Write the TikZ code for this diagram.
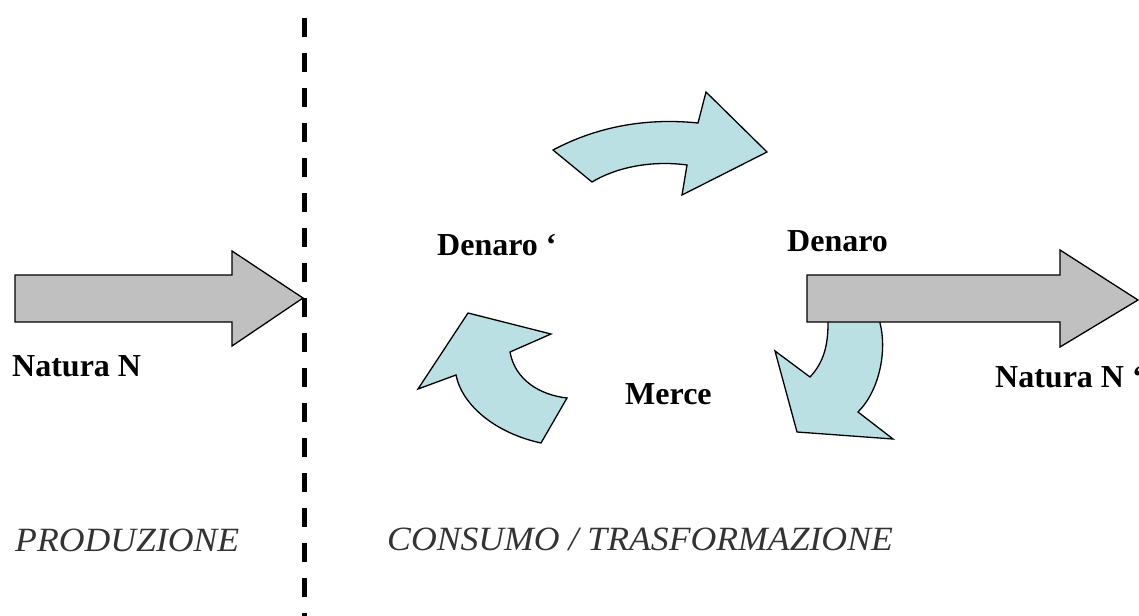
\documentclass[tikz,border=0pt]{standalone}
\usepackage{fontspec}
\setmainfont{Liberation Serif}
\newfontfamily\zonafont[FakeStretch=1.05]{Liberation Serif}
\usepackage{xcolor}
\definecolor{grigio}{HTML}{C0C0C0}
\definecolor{azzurro}{HTML}{BBE0E3}
\definecolor{scuro}{HTML}{333333}

\begin{document}
\begin{tikzpicture}[x=1pt,y=-1pt,
  etichetta/.style={anchor=base west,inner sep=0pt,font=\fontsize{32}{36}\selectfont\bfseries},
  zona/.style={anchor=base west,inner sep=0pt,text=scuro,font=\fontsize{34}{40}\selectfont\zonafont\itshape},
  freccia/.style={line width=1.3pt,line join=miter,fill=grigio},
  ciclo/.style={line width=1.3pt,line join=miter,fill=azzurro}]
\useasboundingbox (0,0) rectangle (1139,615);

\filldraw[freccia] (15,275) -- (232,275) -- (232,251) -- (303,298) -- (232,346) -- (232,322) -- (15,322) -- cycle;
\draw[line width=5pt,dash pattern=on 19pt off 16pt] (304,18) -- (304,640);

\filldraw[ciclo] (553,150) .. controls (600,125) and (650,118) .. (698,123) -- (706,92) -- (767,152)
  -- (682,195) -- (687,165) .. controls (650,160) and (615,168) .. (592,182) -- cycle;
\filldraw[ciclo] (468,313) -- (551,334) -- (510,352) .. controls (515,380) and (540,395) .. (567,398)
  -- (541,443) .. controls (495,433) and (462,405) .. (456,375) -- (418,389) -- cycle;
\filldraw[ciclo] (880,310) -- (880,323) .. controls (887,350) and (880,390) .. (858,412) -- (893,439)
  -- (797,432) -- (775,351) -- (810,377) .. controls (824,362) and (828,345) .. (828,323) -- (828,310) -- cycle;

\filldraw[freccia] (807,275) -- (1060,275) -- (1060,250) -- (1138,300) -- (1060,347) -- (1060,322) -- (807,322) -- cycle;

\node[etichetta] (natura) at (12,376) {Natura N};
\node[etichetta] (denarop) at (437,255) {Denaro ‘};
\node[etichetta] (denaro) at (787,251) {Denaro};
\node[etichetta] (merce) at (625,404) {Merce};
\node[etichetta] (naturap) at (995,387) {Natura N ‘};
\node[zona] (prod) at (15,551) {PRODUZIONE};
\node[zona] (cons) at (387,550) {CONSUMO / TRASFORMAZIONE};
\end{tikzpicture}
\end{document}
